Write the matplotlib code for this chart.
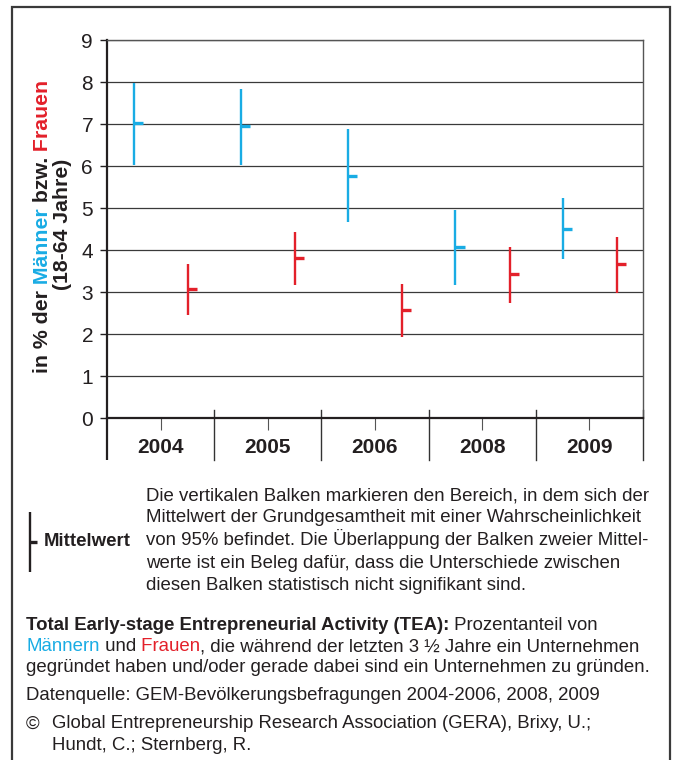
import matplotlib
matplotlib.use("Agg")
import matplotlib.pyplot as plt
import matplotlib.transforms as mtransforms
from matplotlib.lines import Line2D
from matplotlib.patches import Rectangle

plt.rcParams['font.family'] = ['Liberation Sans', 'DejaVu Sans']

# ---------------- data ----------------
years = ['2004', '2005', '2006', '2008', '2009']
men_low = [6.03, 6.03, 4.66, 3.17, 3.78]
men_high = [7.97, 7.83, 6.88, 4.96, 5.25]
men_mean = [7.02, 6.95, 5.77, 4.07, 4.51]
women_low = [2.46, 3.17, 1.92, 2.75, 2.97]
women_high = [3.66, 4.43, 3.20, 4.08, 4.32]
women_mean = [3.07, 3.81, 2.56, 3.42, 3.66]
y_ticks = list(range(0, 10))

legend_par = [
    "Die vertikalen Balken markieren den Bereich, in dem sich der",
    "Mittelwert der Grundgesamtheit mit einer Wahrscheinlichkeit",
    "von 95% befindet. Die Überlappung der Balken zweier Mittel-",
    "werte ist ein Beleg dafür, dass die Unterschiede zwischen",
    "diesen Balken statistisch nicht signifikant sind.",
]

BLUE = '#19ACE4'
RED = '#E3202A'
DARK = '#231F20'

W, H = 674, 760
fig = plt.figure(figsize=(W / 100, H / 100), dpi=100)


def fx(px):
    return px / W


def fy(py):
    return 1 - py / H


# ---------------- axes ----------------
ax = fig.add_axes([fx(107), fy(418), (643 - 107) / W, (418 - 40) / H])
n = len(years)
ax.set_xlim(0, n)
ax.set_ylim(0, 9)
ax.set_yticks(y_ticks)
ax.set_yticklabels([str(v) for v in y_ticks])
ax.grid(axis='y', color='#3a3a3a', lw=0.9, zorder=0)
ax.set_axisbelow(True)

for s in ['top', 'right']:
    ax.spines[s].set_color('#555555')
    ax.spines[s].set_linewidth(1.0)
for s in ['left', 'bottom']:
    ax.spines[s].set_color(DARK)
    ax.spines[s].set_linewidth(1.6)

ax.tick_params(axis='y', length=5, width=1, color=DARK, labelsize=15,
               labelcolor=DARK, pad=5)
ax.set_xticks([i + 0.5 for i in range(n)])
ax.set_xticklabels([''] * n)
ax.tick_params(axis='x', length=8.5, width=0.8, color='#555555')

blend = mtransforms.blended_transform_factory(ax.transData, ax.transAxes)
for i, yr in enumerate(years):
    ax.text(i + 0.5, -0.077, yr, transform=blend, ha='center', va='center',
            fontsize=15, fontweight='bold', color=DARK)
for i in range(1, n + 1):
    ax.plot([i, i], [0.021, -0.111], transform=blend, color='#333333',
            lw=1.0, clip_on=False)
ax.plot([0, 0], [0, -0.111], transform=blend, color=DARK, lw=1.6,
        clip_on=False, solid_capstyle='butt')

# bars
xm = [i + 0.25 for i in range(n)]
xw = [i + 0.755 for i in range(n)]
stub = 0.085
ax.vlines(xm, men_low, men_high, color=BLUE, lw=1.7, zorder=3)
ax.hlines(men_mean, xm, [x + stub for x in xm], color=BLUE, lw=2.4, zorder=3)
ax.vlines(xw, women_low, women_high, color=RED, lw=1.7, zorder=3)
ax.hlines(women_mean, xw, [x + stub for x in xw], color=RED, lw=2.4, zorder=3)

# ---------------- y label (multi-colour, rotated) ----------------
ylab_kw = dict(rotation=90, fontsize=15.3, fontweight='bold')
t = fig.text(fx(42), fy(373), "in % der", ha='center', va='bottom',
             color=DARK, **ylab_kw)
for piece, col in [(" Männer", BLUE), (" bzw.", DARK), (" Frauen", RED)]:
    t = ax.annotate(piece, xy=(0.5, 1), xycoords=t, ha='center', va='bottom',
                    color=col, annotation_clip=False, **ylab_kw)
fig.text(fx(63), fy(224), "(18-64 Jahre)", ha='center', va='center',
         color=DARK, **ylab_kw)

# ---------------- legend ----------------
fig.add_artist(Line2D([fx(30), fx(30)], [fy(512), fy(572)], color=DARK,
                      lw=1.7, solid_capstyle='butt'))
fig.add_artist(Line2D([fx(30), fx(37)], [fy(542), fy(542)], color=DARK,
                      lw=2.4, solid_capstyle='butt'))
fig.text(fx(44), fy(542), "Mittelwert", ha='left', va='center',
         fontsize=13.4, fontweight='bold', color=DARK)

fs = 13.4
par_base = [500, 522.5, 545, 567.5, 590]
for line, yb in zip(legend_par, par_base):
    fig.text(fx(146), fy(yb), line, ha='left', va='baseline', fontsize=fs,
             color=DARK)

# ---------------- bottom text ----------------
t = fig.text(fx(26), fy(630), "Total Early-stage Entrepreneurial Activity (TEA):",
             ha='left', va='baseline', fontsize=fs, fontweight='bold', color=DARK)
ax.annotate(" Prozentanteil von", xy=(1, 0), xycoords=t, ha='left',
            va='bottom', fontsize=fs, color=DARK, annotation_clip=False)

t = fig.text(fx(26), fy(651), "Männern", ha='left', va='baseline',
             fontsize=fs, color=BLUE)
for piece, col in [(" und", DARK), (" Frauen", RED),
                   (", die während der letzten 3 ½ Jahre ein Unternehmen", DARK)]:
    t = ax.annotate(piece, xy=(1, 0), xycoords=t, ha='left', va='bottom',
                    fontsize=fs, color=col, annotation_clip=False)

fig.text(fx(26), fy(671.5),
         "gegründet haben und/oder gerade dabei sind ein Unternehmen zu gründen.",
         ha='left', va='baseline', fontsize=fs, color=DARK)
fig.text(fx(26), fy(699.5),
         "Datenquelle: GEM-Bevölkerungsbefragungen 2004-2006, 2008, 2009",
         ha='left', va='baseline', fontsize=fs, color=DARK)
fig.text(fx(26), fy(728.5), "©", ha='left', va='baseline', fontsize=fs,
         color=DARK)
fig.text(fx(52), fy(728.5),
         "Global Entrepreneurship Research Association (GERA), Brixy, U.;",
         ha='left', va='baseline', fontsize=fs, color=DARK)
fig.text(fx(52), fy(750.5), "Hundt, C.; Sternberg, R.", ha='left',
         va='baseline', fontsize=fs, color=DARK)

# ---------------- outer frame ----------------
fig.add_artist(Rectangle((fx(12), fy(775)), (670 - 12) / W, (775 - 7) / H,
                         transform=fig.transFigure, fill=False,
                         edgecolor='#3a3a3a', lw=1.6, clip_on=False))

fig.savefig("out.png", dpi=100)
